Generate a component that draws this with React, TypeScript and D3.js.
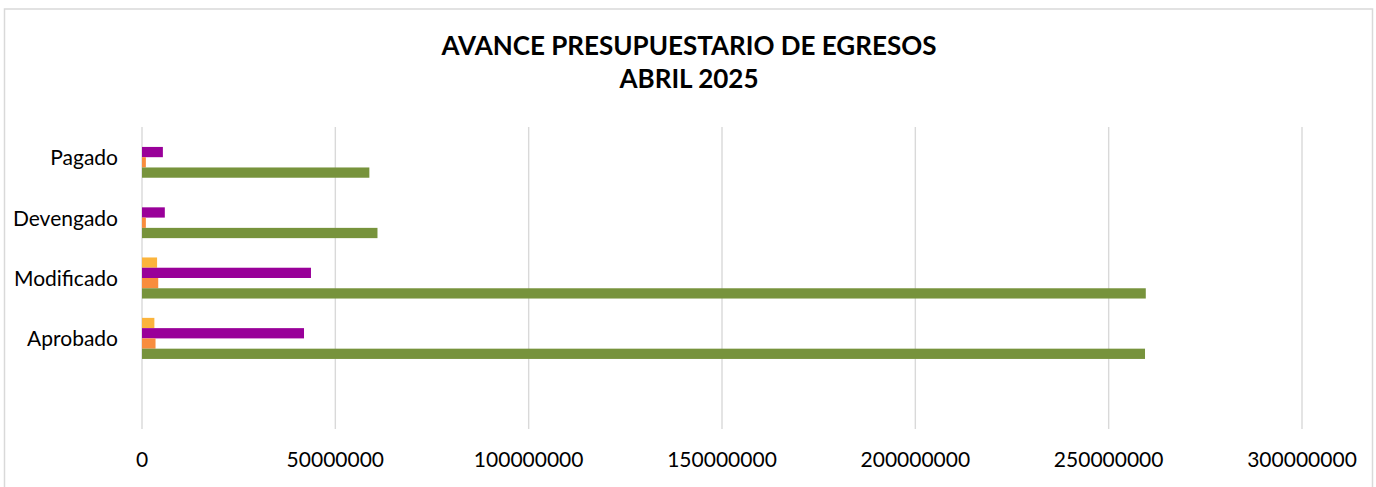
import React from 'react'
import * as d3 from 'd3'

// categories, top to bottom ("" is the empty slot Excel leaves at the bottom)
const categories = ['Pagado', 'Devengado', 'Modificado', 'Aprobado', '']

// series, listed top to bottom inside each group
const seriesNames = ['Serie 4', 'Serie 3', 'Serie 2', 'Serie 1']
const seriesColors = ['#FBB43C', '#990099', '#F88D3E', '#77933C']

// values per series, in the order Pagado, Devengado, Modificado, Aprobado
const serie4 = [0, 0, 3900000, 3200000]
const serie3 = [5400000, 5900000, 43700000, 41900000]
const serie2 = [1000000, 1000000, 4200000, 3500000]
const serie1 = [58800000, 60900000, 259600000, 259400000]
const seriesValues = [serie4, serie3, serie2, serie1]

const xTicks = [0, 50000000, 100000000, 150000000, 200000000, 250000000, 300000000]

const titleLines = ['AVANCE PRESUPUESTARIO DE EGRESOS', 'ABRIL 2025']

const WIDTH = 1376
const HEIGHT = 487

const App = () => {
  const plot = { left: 142, right: 1302, top: 127, bottom: 429 }

  const xScale = d3.scaleLinear()
    .domain([0, 300000000])
    .range([plot.left, plot.right])

  const yScale = d3.scaleBand<string>()
    .domain(categories)
    .range([plot.top, plot.bottom])
    .paddingInner(0.32)
    .paddingOuter(0.16)

  const subScale = d3.scaleBand<string>()
    .domain(seriesNames)
    .range([0, yScale.bandwidth()])

  const labelFont = 'Lato, "Open Sans", sans-serif'

  return (
    <svg width={WIDTH} height={HEIGHT} style={{ position: 'absolute', left: 0, top: 0, background: '#fff' }}>
      <rect x={4.5} y={9} width={1368} height={490} fill="#fff" stroke="#d9d9d9" strokeWidth={1.5} />

      {titleLines.map((t, i) => (
        <text key={i} x={689} y={55 + i * 33} textAnchor="middle"
          fontFamily={labelFont} fontWeight={700} fontSize={26} fill="#000">
          {t}
        </text>
      ))}

      {/* gridlines */}
      <g>
        {xTicks.map((t) => (
          <line key={t} x1={xScale(t)} x2={xScale(t)} y1={plot.top} y2={plot.bottom}
            stroke="#d9d9d9" strokeWidth={1.4} />
        ))}
      </g>

      {/* bars */}
      <g>
        {seriesValues.map((vals, s) => (
          <g key={s} fill={seriesColors[s]}>
            {vals.map((v, c) => (
              <rect key={c}
                x={xScale(0)}
                y={(yScale(categories[c]) as number) + (subScale(seriesNames[s]) as number)}
                width={Math.max(0, xScale(v) - xScale(0))}
                height={subScale.bandwidth()} />
            ))}
          </g>
        ))}
      </g>

      {/* category labels */}
      <g>
        {categories.filter((c) => c !== '').map((c) => (
          <text key={c} x={118} y={(yScale(c) as number) + yScale.bandwidth() / 2 + 8}
            textAnchor="end" fontFamily={labelFont} fontSize={21} fill="#000">
            {c}
          </text>
        ))}
      </g>

      {/* x tick labels */}
      <g>
        {xTicks.map((t) => (
          <text key={t} x={xScale(t)} y={467} textAnchor="middle"
            fontFamily={labelFont} fontSize={21} fill="#000">
            {String(t)}
          </text>
        ))}
      </g>
    </svg>
  )
}

export default App
